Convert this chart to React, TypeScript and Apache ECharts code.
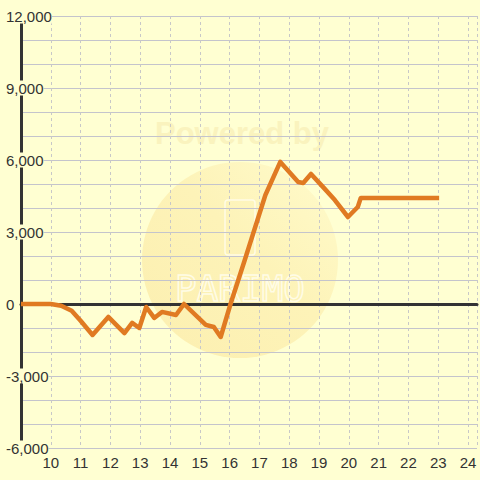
import React, { useEffect, useRef } from "react";
import * as echarts from "echarts";

const hours = [9, 10, 10.35, 10.7, 11.0, 11.4, 11.93, 12.47, 12.73, 12.97, 13.2, 13.47, 13.73, 14.2, 14.47, 15.2, 15.47, 15.7, 16.03, 16.5, 17.2, 17.7, 18.3, 18.47, 18.73, 19.13, 19.53, 19.97, 20.3, 20.4, 23.03];
const profit = [0, 0, -70, -280, -700, -1290, -540, -1210, -790, -1000, -125, -580, -330, -460, 0, -870, -960, -1375, 0, 1800, 4540, 5920, 5080, 5040, 5420, 4880, 4330, 3625, 4040, 4420, 4420];
const xTickLabels = [10, 11, 12, 13, 14, 15, 16, 17, 18, 19, 20, 21, 22, 23, 24];
const yTickLabels = [-6000, -3000, 0, 3000, 6000, 9000, 12000];

const BG = "#ffffd2";
const FONT = "'Liberation Sans', Arial, sans-serif";

export default function App() {
  const ref = useRef<HTMLDivElement>(null);
  useEffect(() => {
    if (!ref.current) return;
    const chart = echarts.init(ref.current, undefined, { renderer: "svg" });
    const fmt = (v: number) => v.toLocaleString("en-US");
    chart.setOption({
      animation: false,
      backgroundColor: BG,
      grid: { left: 21, right: 0, top: 16, bottom: 32, containLabel: false },
      graphic: [
        {
          type: "circle",
          z: -10,
          shape: { cx: 240, cy: 260, r: 98 },
          style: {
            fill: new echarts.graphic.LinearGradient(1, 0, 0, 1, [
              { offset: 0, color: "#fffbcc" },
              { offset: 0.45, color: "#fdf3b8" },
              { offset: 1, color: "#fcefb0" },
            ]),
          },
        },
        {
          type: "text",
          z: -9,
          x: 242,
          y: 133,
          style: {
            text: "Powered by",
            fill: "#faf3be",
            font: "bold 31px " + FONT,
            align: "center",
            verticalAlign: "middle",
          },
        },
        {
          type: "rect",
          z: -9,
          shape: { x: 225, y: 200, width: 30, height: 55, r: 3 },
          style: { fill: "none", stroke: "#fffce6", lineWidth: 1.5 },
        },
        {
          type: "text",
          z: -9,
          x: 240,
          y: 288,
          style: {
            text: "PARIMO",
            fill: "none",
            stroke: "#fffce6",
            lineWidth: 1.5,
            font: "36px 'DejaVu Sans Mono', monospace",
            align: "center",
            verticalAlign: "middle",
          },
        },
      ],
      xAxis: [
        {
          type: "value",
          min: 9,
          max: 24.3,
          interval: 1,
          position: "bottom",
          axisLine: { show: true, onZero: true, lineStyle: { color: "#333", width: 3 } },
          axisTick: { show: false },
          axisLabel: { show: false },
          splitLine: { show: true, lineStyle: { color: "#c8c8c8", type: [3, 3], width: 1 } },
        },
        {
          type: "value",
          min: 9,
          max: 24.3,
          interval: 1,
          position: "bottom",
          axisLine: { show: false, onZero: false },
          axisTick: { show: false },
          splitLine: { show: false },
          axisLabel: {
            show: true,
            margin: 7,
            color: "#333",
            fontSize: 15,
            fontFamily: FONT,
            formatter: (v: number) => (xTickLabels.indexOf(v) >= 0 ? String(v) : ""),
          },
        },
      ],
      yAxis: {
        type: "value",
        min: -6000,
        max: 12000,
        interval: 1000,
        axisLine: { show: true, lineStyle: { color: "#333", width: 3 } },
        axisTick: { show: false },
        splitLine: { show: true, lineStyle: { color: "#c4c4cc", width: 1 } },
        axisLabel: {
          show: true,
          align: "left",
          margin: 15,
          color: "#333",
          fontSize: 15,
          fontFamily: FONT,
          backgroundColor: BG,
          padding: 0,
          formatter: (v: number) => (yTickLabels.indexOf(v) >= 0 ? fmt(v) : ""),
        },
      },
      series: [
        {
          type: "line",
          xAxisIndex: 0,
          data: hours.map((h, i) => [h, profit[i]]),
          showSymbol: false,
          symbol: "none",
          lineStyle: { color: "#e07a22", width: 4.5, join: "round" },
          z: 5,
        },
      ],
    });
    return () => chart.dispose();
  }, []);
  return <div ref={ref} style={{ width: 480, height: 480, position: "absolute", left: 0, top: 0 }} />;
}
